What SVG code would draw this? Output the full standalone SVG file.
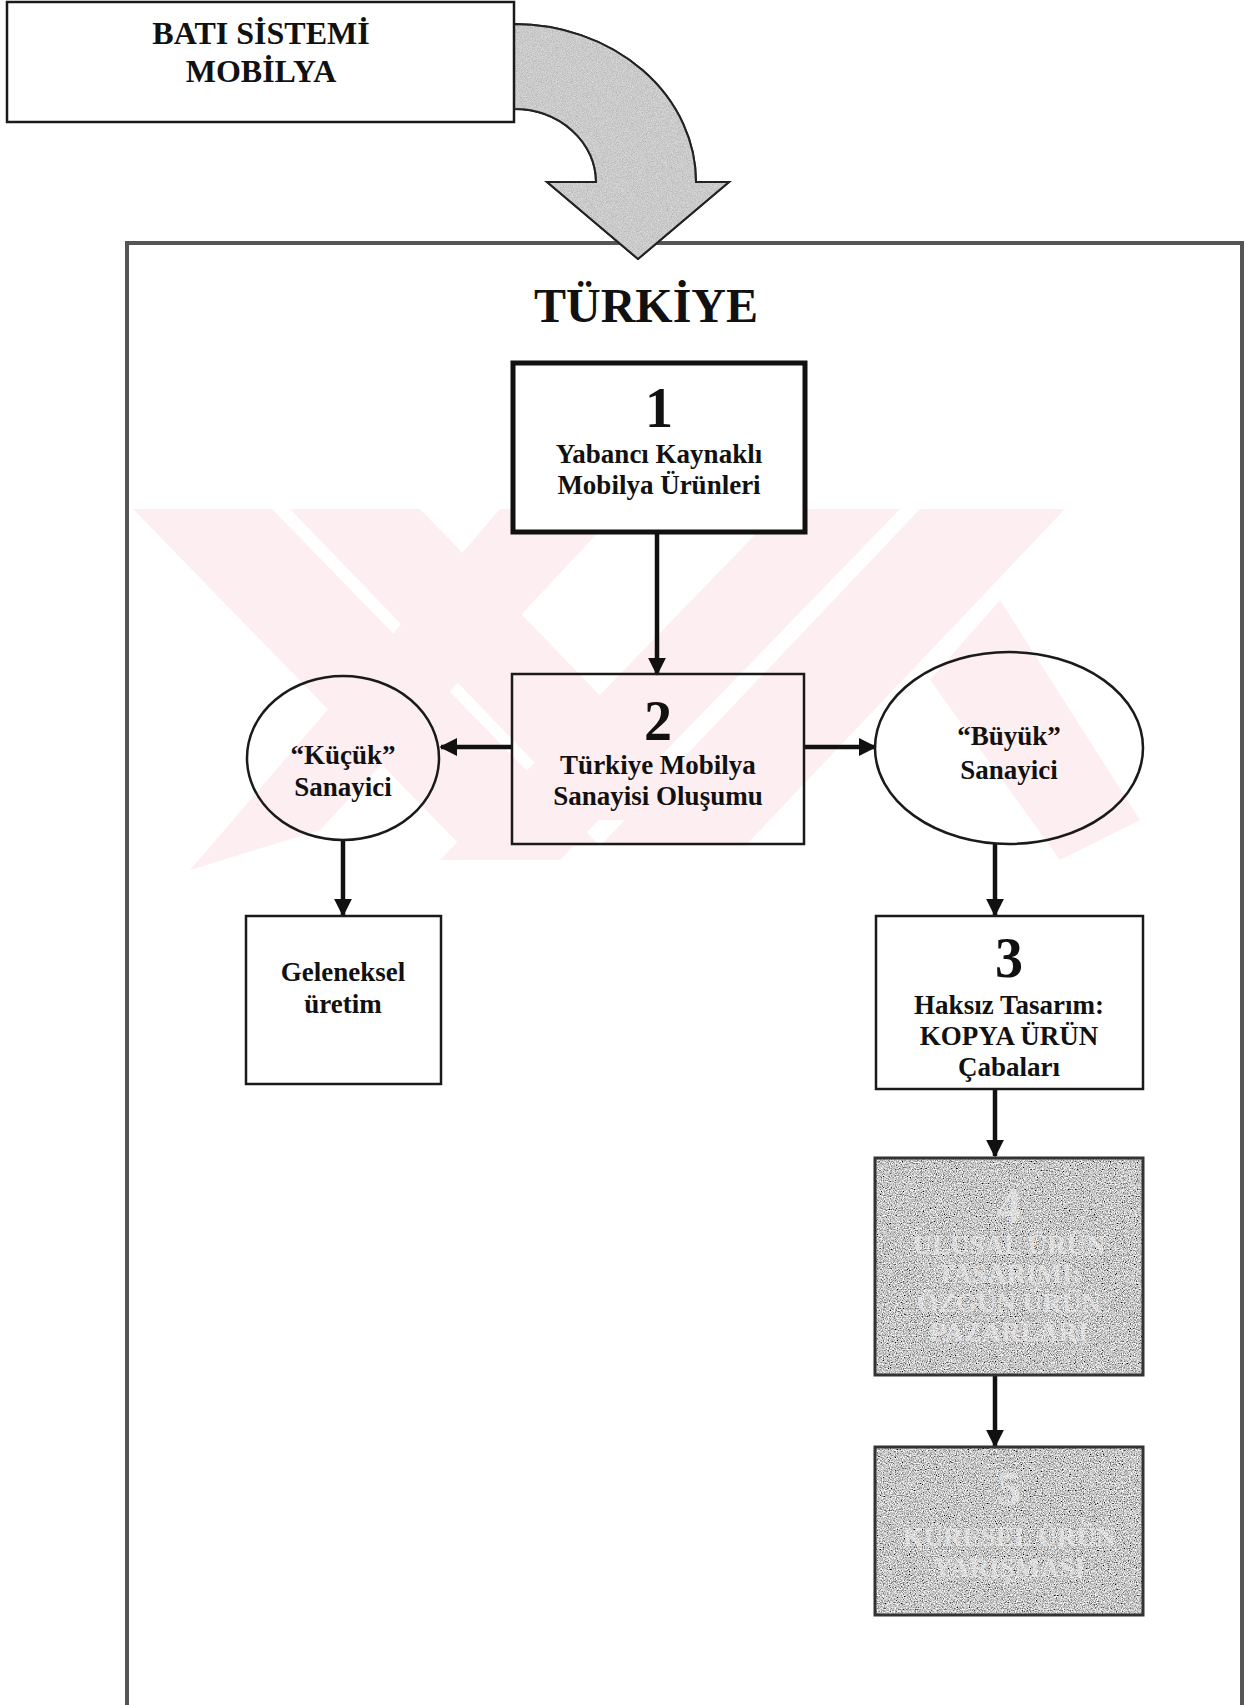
<svg xmlns="http://www.w3.org/2000/svg" width="1253" height="1705" viewBox="0 0 1253 1705">
<defs>
<style>
.t{font-family:"Liberation Serif","Times New Roman",serif;font-weight:bold;fill:#111;text-anchor:middle}
.n{font-size:56px}
.l{font-size:27px}
.box{fill:none;stroke:#1a1a1a;stroke-width:2.5}
.wbox{fill:#fff;stroke:#1a1a1a;stroke-width:2.5}
.conn{stroke:#111;stroke-width:4.5;fill:none}
.wm{fill:#fdeef1}
.g{font-family:"Liberation Serif","Times New Roman",serif;font-weight:bold;fill:#f0f0f0;fill-opacity:0.6;text-anchor:middle}
</style>
<marker id="ah" viewBox="0 0 10 10" refX="9" refY="5" markerWidth="4" markerHeight="4" orient="auto" markerUnits="strokeWidth">
<path d="M0,0 L10,5 L0,10 Z" fill="#111"/>
</marker>
<filter id="grain" x="0" y="0" width="100%" height="100%">
<feTurbulence type="fractalNoise" baseFrequency="0.85" numOctaves="2" seed="7" result="n"/>
<feColorMatrix in="n" type="matrix" values="1.9 0 0 0 -0.38  1.9 0 0 0 -0.38  1.9 0 0 0 -0.38  0 0 0 0 1" result="g"/>
<feComposite in="g" in2="SourceGraphic" operator="in"/>
</filter>
<filter id="grainLight" x="0" y="0" width="100%" height="100%">
<feTurbulence type="fractalNoise" baseFrequency="1.2" numOctaves="1" seed="2" result="n"/>
<feColorMatrix in="n" type="matrix" values="0.9 0 0 0 0.3  0.9 0 0 0 0.3  0.9 0 0 0 0.3  0 0 0 0 1" result="g"/>
<feComposite in="g" in2="SourceGraphic" operator="in"/>
</filter>
</defs>
<rect width="1253" height="1705" fill="#fff"/>

<g id="watermark">
<polygon class="wm" points="133,509 272,509 600,846 461,846"/>
<polygon class="wm" points="290,509 420,509 720,820 590,820"/>
<polygon class="wm" points="920,509 1065,509 745,846 600,846"/>
<polygon class="wm" points="780,509 900,509 560,860 440,860"/>
<polygon class="wm" points="500,509 620,509 320,830 190,870"/>
<polygon class="wm" points="1000,600 1140,820 1060,860 930,680"/>
</g>

<g id="frame">
<rect x="127" y="243" width="1115" height="1480" fill="none" stroke="#555" stroke-width="4"/>
</g>

<g id="curved-arrow">
<path d="M514,24 A182,158 0 0 1 696,182 L729,182 L638,259 L547,182 L596,182 A82,73 0 0 0 514,109 Z" fill="#aaa" stroke="#222" stroke-width="2"/>
<path d="M514,24 A182,158 0 0 1 696,182 L729,182 L638,259 L547,182 L596,182 A82,73 0 0 0 514,109 Z" fill="#fff" filter="url(#grainLight)" opacity="0.6"/>
<path d="M514,24 A182,158 0 0 1 696,182 L729,182 L638,259 L547,182 L596,182 A82,73 0 0 0 514,109 Z" fill="none" stroke="#222" stroke-width="2"/>
</g>

<g id="bati">
<rect x="7" y="2" width="507" height="120" class="wbox"/>
<text class="t" x="261" y="44" font-size="32">BATI SİSTEMİ</text>
<text class="t" x="261" y="82" font-size="32">MOBİLYA</text>
</g>

<g id="turkiye-title">
<text class="t" x="646" y="322" font-size="48">TÜRKİYE</text>
</g>

<g id="connectors">
<line class="conn" x1="657" y1="533" x2="657" y2="674" marker-end="url(#ah)"/>
<line class="conn" x1="512" y1="747" x2="441" y2="747" marker-end="url(#ah)"/>
<line class="conn" x1="804" y1="747" x2="875" y2="747" marker-end="url(#ah)"/>
<line class="conn" x1="343" y1="840" x2="343" y2="915" marker-end="url(#ah)"/>
<line class="conn" x1="995" y1="844" x2="995" y2="915" marker-end="url(#ah)"/>
<line class="conn" x1="995" y1="1089" x2="995" y2="1156" marker-end="url(#ah)"/>
<line class="conn" x1="995" y1="1375" x2="995" y2="1446" marker-end="url(#ah)"/>
</g>

<g id="node1">
<rect x="513" y="363" width="292" height="169" fill="#fff" stroke="#111" stroke-width="5"/>
<text class="t n" x="659" y="427" font-size="58">1</text>
<text class="t l" x="659" y="463">Yabancı Kaynaklı</text>
<text class="t l" x="659" y="494">Mobilya Ürünleri</text>
</g>

<g id="node2">
<rect x="512" y="674" width="292" height="170" class="box"/>
<text class="t n" x="658" y="740">2</text>
<text class="t l" x="658" y="774">Türkiye Mobilya</text>
<text class="t l" x="658" y="805">Sanayisi Oluşumu</text>
</g>

<g id="kucuk">
<ellipse cx="343" cy="758" rx="96" ry="82" class="box"/>
<text class="t l" x="343" y="764">“Küçük”</text>
<text class="t l" x="343" y="796">Sanayici</text>
</g>

<g id="buyuk">
<ellipse cx="1009" cy="748" rx="134" ry="96" class="box"/>
<text class="t l" x="1009" y="745">“Büyük”</text>
<text class="t l" x="1009" y="779">Sanayici</text>
</g>

<g id="geleneksel">
<rect x="246" y="916" width="195" height="168" class="box"/>
<text class="t l" x="343" y="981">Geleneksel</text>
<text class="t l" x="343" y="1013">üretim</text>
</g>

<g id="node3">
<rect x="876" y="916" width="267" height="173" class="wbox"/>
<text class="t n" x="1009" y="977">3</text>
<text class="t l" x="1009" y="1014">Haksız  Tasarım:</text>
<text class="t l" x="1009" y="1045">KOPYA ÜRÜN</text>
<text class="t l" x="1009" y="1076">Çabaları</text>
</g>

<g id="node4">
<rect x="875" y="1158" width="268" height="217" fill="#fff" filter="url(#grain)"/>
<rect x="875" y="1158" width="268" height="217" fill="none" stroke="#333" stroke-width="3"/>
<text class="g" x="1009" y="1222" font-size="48">4</text>
<text class="g" x="1009" y="1254" font-size="27">ULUSAL ÜRÜN</text>
<text class="g" x="1009" y="1283" font-size="27">TASARIMI:</text>
<text class="g" x="1009" y="1312" font-size="27">ÖZGÜN ÜRÜN</text>
<text class="g" x="1009" y="1341" font-size="27">PAZARLARI</text>
</g>

<g id="node5">
<rect x="875" y="1447" width="268" height="168" fill="#fff" filter="url(#grain)"/>
<rect x="875" y="1447" width="268" height="168" fill="none" stroke="#333" stroke-width="3"/>
<text class="g" x="1009" y="1505" font-size="48">5</text>
<text class="g" x="1009" y="1546" font-size="27">KÜRESEL ÜRÜN</text>
<text class="g" x="1009" y="1577" font-size="27">YARIŞMASI</text>
</g>
</svg>
